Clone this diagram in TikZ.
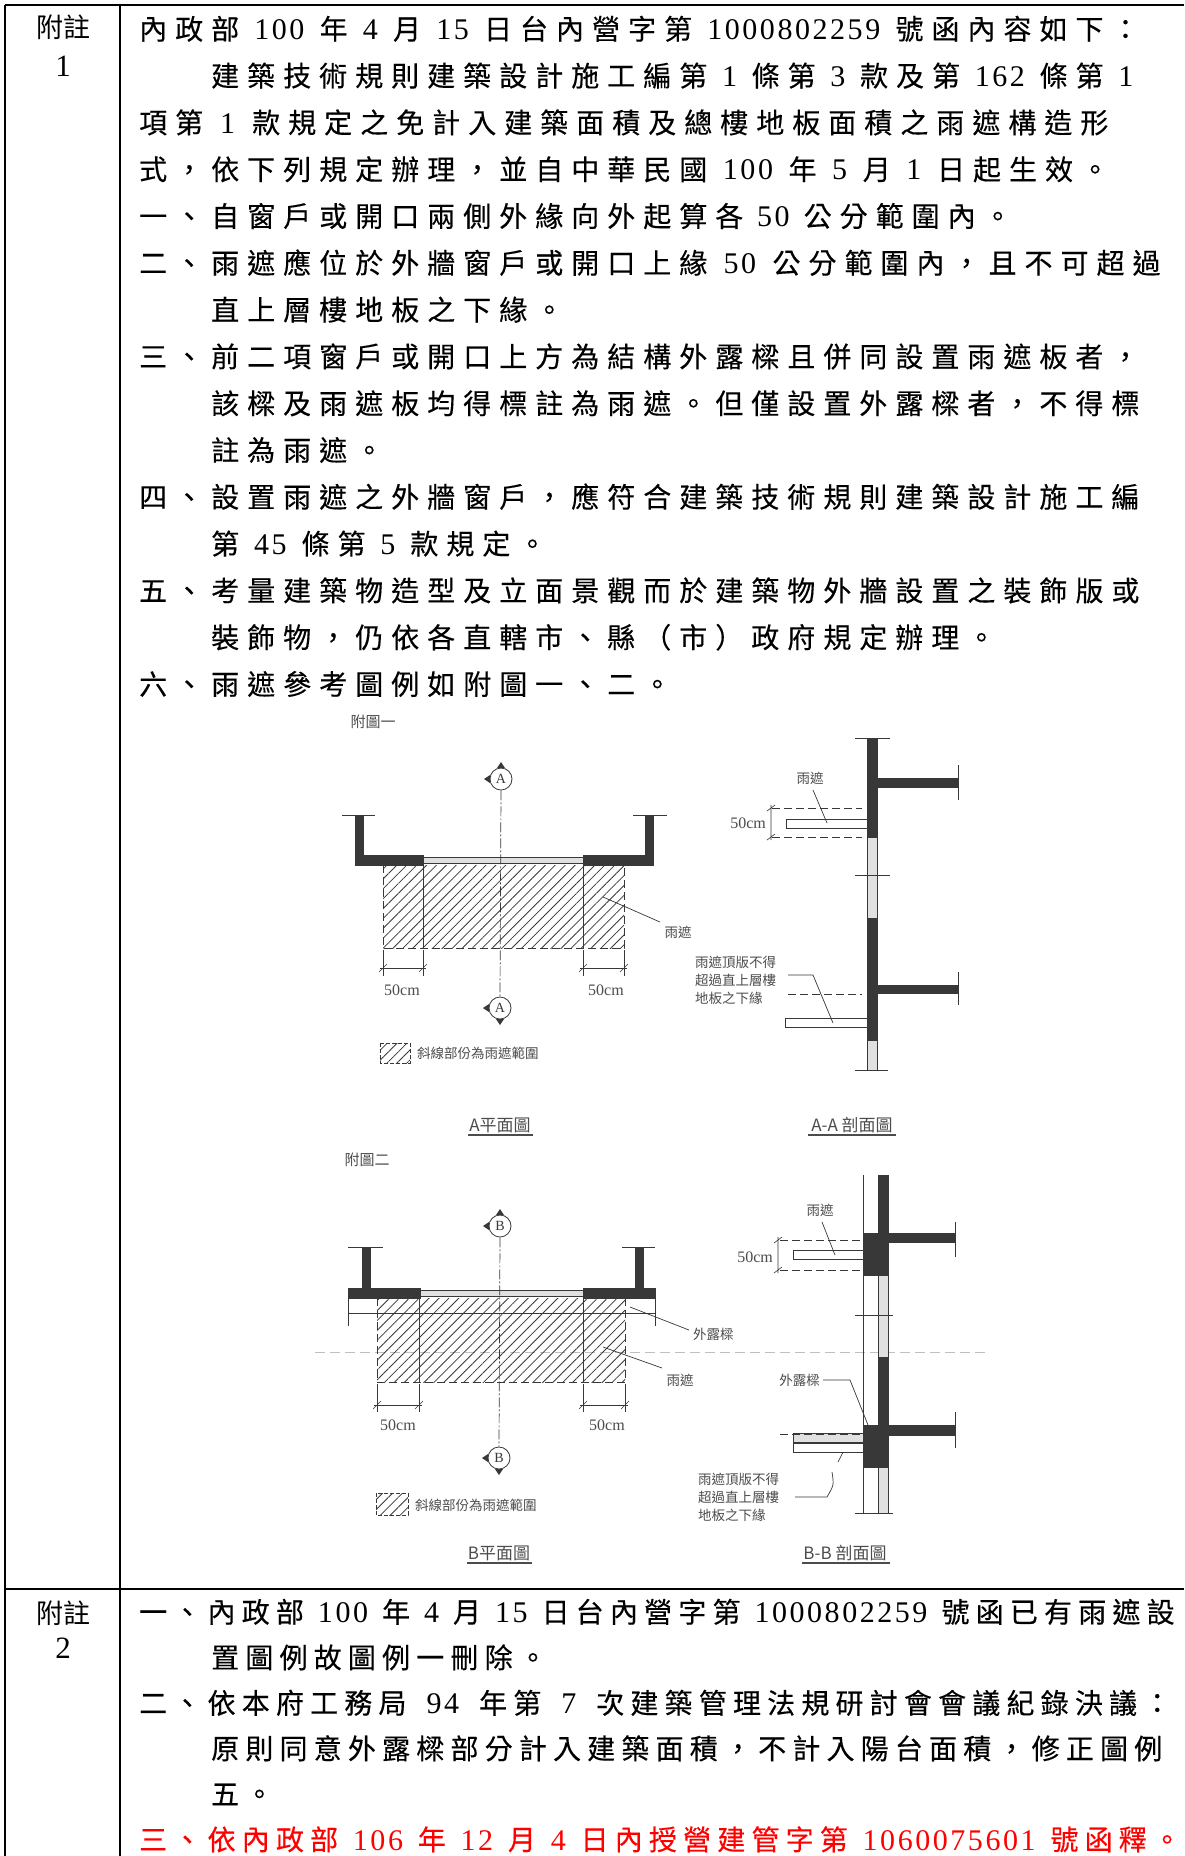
\documentclass[tikz,border=0pt]{standalone}
\usepackage{fontspec}
\usetikzlibrary{patterns.meta}
\setmainfont{Liberation Serif}
\newfontfamily\cjk[LetterSpace=28.6,FakeBold=0.3]{Noto Sans CJK TC}
\newfontfamily\cjkb[LetterSpace=22.1,FakeBold=0.3]{Noto Sans CJK TC}
\newfontfamily\cjkplain{Noto Sans CJK TC}
\newfontfamily\numf[LetterSpace=8.5]{Liberation Serif}
\newlength\sps
\setlength\sps{15.4pt}
\newcommand\dgt[1]{\hspace{\sps}{\numf\fontsize{30}{30}\selectfont #1}\hspace{\sps}}
\definecolor{ink}{gray}{0.22}
\definecolor{lab}{gray}{0.30}
\begin{document}
\begin{tikzpicture}[x=1pt,y=-1pt,
  tbl/.style={line width=2.2pt,black},
  body/.style={anchor=base west,inner sep=0pt,font=\cjk\fontsize{28}{30}\selectfont},
  bodyb/.style={anchor=base west,inner sep=0pt,font=\cjkb\fontsize{28}{30}\selectfont},
  hd/.style={inner sep=0pt,font=\cjkplain\fontsize{27}{30}\selectfont},
  hdnum/.style={inner sep=0pt,font=\fontsize{31}{34}\selectfont},
  wall/.style={fill=ink,draw=ink,line width=0.6pt},
  glass/.style={fill=black!12,draw=ink,line width=0.6pt},
  canopy/.style={fill=white,draw=ink,line width=0.8pt},
  thinl/.style={draw=ink,line width=0.8pt},
  dashl/.style={draw=ink,line width=0.8pt,dash pattern=on 8pt off 4pt},
  cline/.style={draw=ink,line width=0.7pt,dash pattern=on 10pt off 2pt on 2pt off 2pt},
  hatch/.style={pattern={Lines[angle=45,distance=7pt,line width=0.8pt]},pattern color=ink},
  lbl/.style={inner sep=0pt,text=lab,font=\cjkplain\fontsize{13.5}{18}\selectfont},
  dimt/.style={inner sep=0pt,text=lab,font=\fontsize{16}{18}\selectfont},
  ttl/.style={inner sep=0pt,text=lab,font=\cjkplain\fontsize{17}{20}\selectfont},
  mk/.style={circle,draw=ink,line width=0.8pt,minimum size=22pt,inner sep=0pt,text=ink,font=\fontsize{14}{14}\selectfont},
  lead/.style={draw=ink,line width=0.7pt}
]
\useasboundingbox (0,0) rectangle (1184,1856);
\fill[white] (0,0) rectangle (1184,1856);

% ---------------- table ----------------
\draw[tbl] (5,5) -- (1184,5);
\draw[tbl] (5,5) -- (5,1856);
\draw[tbl] (120,5) -- (120,1856);
\draw[tbl] (5,1589) -- (1184,1589);

\node[hd] (h1) at (63,27.5) {附註};
\node[hdnum] (n1) at (63,66) {1};
\node[hd] (h2) at (63,1613) {附註};
\node[hdnum] (n2) at (63,1648) {2};

% ---------------- text ----------------
\node[body] (t1) at (139,39.5) {\setlength\sps{15.2pt}內政部\dgt{100}年\dgt{4}月\dgt{15}日台內營字第\dgt{1000802259}號函內容如下：};
\node[body] (t2) at (211,86.3) {\setlength\sps{14.7pt}建築技術規則建築設計施工編第\dgt{1}條第\dgt{3}款及第\dgt{162}條第\dgt{1}};
\node[body] (t3) at (139,133.1) {\setlength\sps{17pt}項第\dgt{1}款規定之免計入建築面積及總樓地板面積之雨遮構造形};
\node[body] (t4) at (139,179.9) {\setlength\sps{15.6pt}式，依下列規定辦理，並自中華民國\dgt{100}年\dgt{5}月\dgt{1}日起生效。};
\node[body] (t5) at (139,226.7) {\setlength\sps{13.9pt}一、自窗戶或開口兩側外緣向外起算各\dgt{50}公分範圍內。};
\node[body] (t6) at (139,273.5) {\setlength\sps{16.3pt}二、雨遮應位於外牆窗戶或開口上緣\dgt{50}公分範圍內，且不可超過};
\node[body] (t7) at (211,320.3) {直上層樓地板之下緣。};
\node[body] (t8) at (139,367.1) {三、前二項窗戶或開口上方為結構外露樑且併同設置雨遮板者，};
\node[body] (t9) at (211,413.9) {該樑及雨遮板均得標註為雨遮。但僅設置外露樑者，不得標};
\node[body] (t10) at (211,460.7) {註為雨遮。};
\node[body] (t11) at (139,507.5) {四、設置雨遮之外牆窗戶，應符合建築技術規則建築設計施工編};
\node[body] (t12) at (211,554.3) {\setlength\sps{14.9pt}第\dgt{45}條第\dgt{5}款規定。};
\node[body] (t13) at (139,601.1) {五、考量建築物造型及立面景觀而於建築物外牆設置之裝飾版或};
\node[body] (t14) at (211,647.9) {裝飾物，仍依各直轄市、縣（市）政府規定辦理。};
\node[body] (t15) at (139,694.7) {六、雨遮參考圖例如附圖一、二。};

\node[bodyb] (b1) at (139,1622.5) {\setlength\sps{14pt}一、內政部\dgt{100}年\dgt{4}月\dgt{15}日台內營字第\dgt{1000802259}號函已有雨遮設};
\node[bodyb] (b2) at (211,1668) {置圖例故圖例一刪除。};
\node[bodyb] (b3) at (139,1713.5) {\setlength\sps{20pt}二、依本府工務局\dgt{94}年第\dgt{7}次建築管理法規研討會會議紀錄決議：};
\node[bodyb] (b4) at (211,1759) {原則同意外露樑部分計入建築面積，不計入陽台面積，修正圖例};
\node[bodyb] (b5) at (211,1804.5) {五。};
\node[bodyb,text=red] (b6) at (139,1850) {\setlength\sps{14.8pt}三、依內政部\dgt{106}年\dgt{12}月\dgt{4}日內授營建管字第\dgt{1060075601}號函釋。};

% =============== Figure 1: plan ===============
\node[lbl,font=\cjkplain\fontsize{15}{18}\selectfont] (f1) at (373,722) {附圖一};
\fill[hatch] (383,865) rectangle (624,948);
\draw[dashl] (383,865) -- (383,948) -- (624,948) -- (624,865);
\draw[thinl,line width=0.6pt] (423,865) -- (423,948) (583,865) -- (583,948);
\fill[wall] (355,815) rectangle (363,865);
\fill[wall] (355,855) rectangle (423,865);
\fill[wall] (583,855) rectangle (653,865);
\fill[wall] (645,815) rectangle (653,865);
\draw[glass] (423,857) rectangle (583,863);
\draw[thinl] (342,815) -- (375,815) (633,815) -- (667,815);
\node[mk] (mA1) at (501,779) {A};
\node[mk] (mA2) at (500,1008) {A};
\fill[ink] (497,768) -- (505,768) -- (501,762) -- cycle;
\fill[ink] (490,775) -- (490,783) -- (484,779) -- cycle;
\fill[ink] (489,1004) -- (489,1012) -- (483,1008) -- cycle;
\fill[ink] (496,1019) -- (504,1019) -- (500,1025) -- cycle;
\draw[cline] (mA1.south) -- (mA2.north);
% dims
\draw[thinl,line width=0.6pt] (383,950) -- (383,976) (423,950) -- (423,976) (380,968) -- (426,968);
\draw[thinl,line width=0.6pt] (379,972) -- (387,964) (419,972) -- (427,964);
\node[dimt] (d1) at (402,990) {50cm};
\draw[thinl,line width=0.6pt] (583,950) -- (583,976) (624,950) -- (624,976) (580,968) -- (627,968);
\draw[thinl,line width=0.6pt] (579,972) -- (587,964) (620,972) -- (628,964);
\node[dimt] (d2) at (606,990) {50cm};
\node[lbl] (ra) at (678,932) {雨遮};
\coordinate (ra0) at (603,897);
\draw[lead] (ra0) -- (660,922);
% legend
\fill[hatch] (380,1043) rectangle (410,1063);
\draw[dashl,dash pattern=on 4pt off 2pt,line width=0.6pt] (380,1043) rectangle (410,1063);
\node[lbl,anchor=west] (lg1) at (417,1053) {斜線部份為雨遮範圍};
\node[ttl] (ta) at (500,1125) {A平面圖};
\draw[thinl,line width=1.4pt,draw=lab] (468,1135) -- (533,1135);

% =============== Figure 1: section ===============
\fill[wall] (867,738) rectangle (877,837);
\draw[glass] (867,837) rectangle (877,918);
\fill[wall] (867,918) rectangle (877,1040);
\draw[glass] (867,1040) rectangle (877,1070);
\draw[thinl] (855,738) -- (890,738) (855,875) -- (890,875) (855,1070) -- (888,1070);
\fill[wall] (877,778) rectangle (958,787);
\draw[thinl] (958,765) -- (958,800);
\fill[wall] (877,985) rectangle (958,993);
\draw[thinl] (958,972) -- (958,1005);
\draw[canopy] (786,819) rectangle (867,828);
\draw[dashl] (772,808) -- (862,808) (772,837) -- (862,837);
\draw[thinl,line width=0.6pt] (771,805) -- (771,840) (767,811) -- (775,805) (767,840) -- (775,834);
\node[dimt,anchor=east] (d3) at (766,823) {50cm};
\node[lbl] (rb) at (810,778) {雨遮};
\draw[lead] (813,790) -- (827,823);
\draw[canopy] (785,1018) rectangle (867,1027);
\draw[dashl] (788,994) -- (862,994);
\node[lbl,anchor=west,align=left] (nb) at (695,980) {雨遮頂版不得\\超過直上層樓\\地板之下緣};
\draw[lead] (788,975) -- (813,975) -- (833,1023);
\node[ttl] (tb) at (852,1125) {A-A 剖面圖};
\draw[thinl,line width=1.4pt,draw=lab] (808,1135) -- (896,1135);

% =============== Figure 2: plan ===============
\node[lbl,font=\cjkplain\fontsize{15}{18}\selectfont] (f2) at (367,1160) {附圖二};
\draw[draw=black!25,line width=0.7pt,dash pattern=on 10pt off 5pt] (315,1352) -- (985,1352);
\fill[hatch] (377,1298) rectangle (625,1382);
\draw[dashl] (377,1298) -- (377,1382) -- (625,1382) -- (625,1298);
\draw[thinl,line width=0.6pt] (419,1298) -- (419,1382) (583,1298) -- (583,1382);
\fill[wall] (362,1247) rectangle (370,1288);
\fill[wall] (635,1247) rectangle (643,1288);
\fill[wall] (348,1288) rectangle (420,1298);
\fill[wall] (583,1288) rectangle (655,1298);
\draw[glass] (420,1290) rectangle (583,1296);
\draw[thinl] (348,1247) -- (383,1247) (622,1247) -- (655,1247);
\draw[thinl] (348,1313) -- (655,1313);
\draw[thinl] (348,1298) -- (348,1326) (655,1298) -- (655,1326);
\node[mk] (mB1) at (500,1226) {B};
\node[mk] (mB2) at (499,1458) {B};
\fill[ink] (496,1215) -- (504,1215) -- (500,1209) -- cycle;
\fill[ink] (489,1222) -- (489,1230) -- (483,1226) -- cycle;
\fill[ink] (488,1454) -- (488,1462) -- (482,1458) -- cycle;
\fill[ink] (495,1469) -- (503,1469) -- (499,1475) -- cycle;
\draw[cline] (mB1.south) -- (mB2.north);
\draw[thinl,line width=0.6pt] (377,1384) -- (377,1412) (419,1384) -- (419,1412) (374,1405) -- (422,1405);
\draw[thinl,line width=0.6pt] (373,1409) -- (381,1401) (415,1409) -- (423,1401);
\node[dimt] (d4) at (398,1425) {50cm};
\draw[thinl,line width=0.6pt] (583,1384) -- (583,1412) (625,1384) -- (625,1412) (580,1405) -- (628,1405);
\draw[thinl,line width=0.6pt] (579,1409) -- (587,1401) (621,1409) -- (629,1401);
\node[dimt] (d5) at (607,1425) {50cm};
\node[lbl,anchor=west] (wl) at (693,1334) {外露樑};
\draw[lead] (630,1307) -- (689,1330);
\node[lbl] (rc) at (680,1380) {雨遮};
\draw[lead] (603,1347) -- (662,1368);
\fill[hatch] (376,1493) rectangle (408,1515);
\draw[dashl,dash pattern=on 4pt off 2pt,line width=0.6pt] (376,1493) rectangle (408,1515);
\node[lbl,anchor=west] (lg2) at (415,1505) {斜線部份為雨遮範圍};
\node[ttl] (tc) at (499,1553) {B平面圖};
\draw[thinl,line width=1.4pt,draw=lab] (467,1563) -- (532,1563);

% =============== Figure 2: section ===============
\draw[thinl,line width=0.7pt] (863,1175) -- (863,1513);
\fill[wall] (878,1175) rectangle (888,1275);
\draw[glass] (878,1275) rectangle (888,1357);
\fill[wall] (878,1357) rectangle (888,1425);
\draw[glass] (878,1467) rectangle (888,1513);
\fill[wall] (863,1233) rectangle (888,1275);
\fill[wall] (863,1425) rectangle (888,1467);
\fill[wall] (888,1233) rectangle (955,1242);
\draw[thinl] (955,1222) -- (955,1257);
\fill[wall] (888,1425) rectangle (955,1435);
\draw[thinl] (955,1412) -- (955,1448);
\draw[thinl] (855,1315) -- (893,1315) (855,1513) -- (893,1513);
\draw[canopy] (793,1250) rectangle (863,1259);
\draw[dashl] (780,1240) -- (863,1240) (780,1270) -- (863,1270);
\draw[thinl,line width=0.6pt] (778,1237) -- (778,1273) (774,1243) -- (782,1237) (774,1273) -- (782,1267);
\node[dimt,anchor=east] (d6) at (773,1257) {50cm};
\node[lbl] (rd) at (820,1210) {雨遮};
\draw[lead] (822,1222) -- (835,1255);
\node[lbl,anchor=east] (wm) at (820,1380) {外露樑};
\draw[lead] (823,1380) -- (850,1380) -- (868,1425);
\draw[glass] (793,1433) rectangle (863,1442);
\draw[canopy] (793,1443) rectangle (863,1452);
\draw[dashl] (780,1434) -- (863,1434);
\draw[lead] (843,1452) -- (838,1462);
\node[lbl,anchor=west,align=left] (nd) at (698,1497) {雨遮頂版不得\\超過直上層樓\\地板之下緣};
\draw[lead] (832,1472) .. controls (834,1485) .. (827,1497) -- (795,1497);
\node[ttl] (td) at (845,1553) {B-B 剖面圖};
\draw[thinl,line width=1.4pt,draw=lab] (802,1563) -- (890,1563);
\end{tikzpicture}
\end{document}
